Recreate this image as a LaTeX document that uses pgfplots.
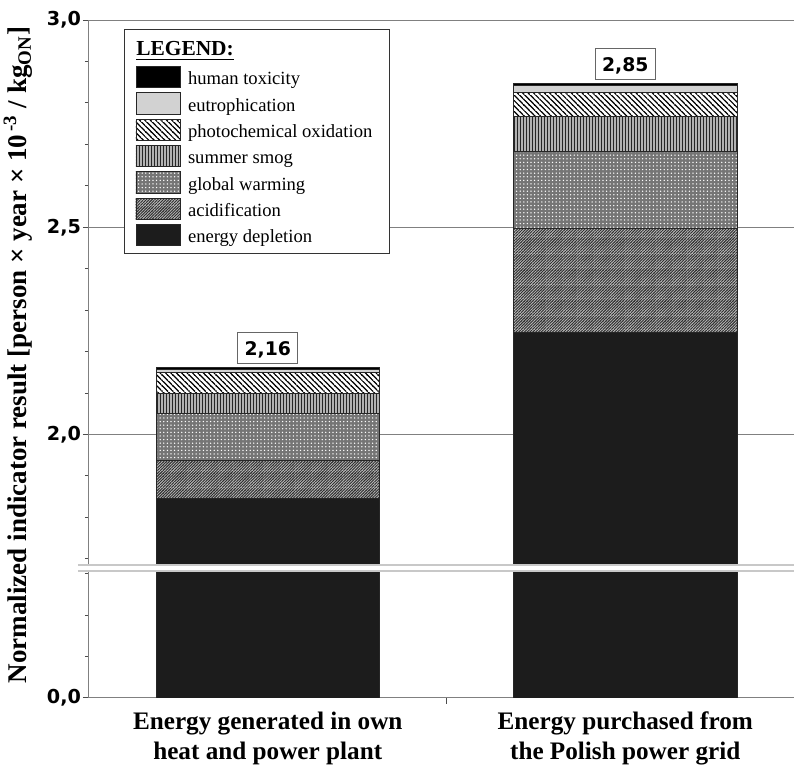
\documentclass[border=0pt]{standalone}
\usepackage{fontspec}
\setmainfont{Liberation Serif}
\newfontfamily\dejavu{DejaVu Sans}
\usepackage{pgfplots}
\pgfplotsset{compat=1.18}
\usetikzlibrary{patterns}

\definecolor{edep}{HTML}{1C1C1C}
\definecolor{axgray}{HTML}{808080}
\definecolor{brk}{HTML}{C8C8C8}
\definecolor{eutro}{HTML}{D2D2D2}

% inherently coloured textures (tiles overlap by 0.3pt to avoid seams)
\pgfdeclarepatterninherentlycolored{pacid}{\pgfqpoint{-0.3pt}{-0.3pt}}{\pgfqpoint{1.71pt}{1.71pt}}{\pgfqpoint{1.41pt}{1.41pt}}{%
  \pgfsetfillcolor{black!28}\pgfpathrectangle{\pgfqpoint{-0.3pt}{-0.3pt}}{\pgfqpoint{2.01pt}{2.01pt}}\pgfusepath{fill}%
  \pgfsetstrokecolor{black!82}\pgfsetlinewidth{0.45pt}%
  \pgfpathmoveto{\pgfqpoint{-0.3pt}{-0.3pt}}\pgfpathlineto{\pgfqpoint{1.71pt}{1.71pt}}%
  \pgfpathmoveto{\pgfqpoint{-0.3pt}{1.11pt}}\pgfpathlineto{\pgfqpoint{0.3pt}{1.71pt}}%
  \pgfpathmoveto{\pgfqpoint{1.11pt}{-0.3pt}}\pgfpathlineto{\pgfqpoint{1.71pt}{0.3pt}}%
  \pgfusepath{stroke}}
\pgfdeclarepatterninherentlycolored{pphoto}{\pgfqpoint{-0.3pt}{-0.3pt}}{\pgfqpoint{3.0pt}{3.0pt}}{\pgfqpoint{2.7pt}{2.7pt}}{%
  \pgfsetfillcolor{white}\pgfpathrectangle{\pgfqpoint{-0.3pt}{-0.3pt}}{\pgfqpoint{3.3pt}{3.3pt}}\pgfusepath{fill}%
  \pgfsetstrokecolor{black}\pgfsetlinewidth{0.6pt}%
  \pgfpathmoveto{\pgfqpoint{-0.3pt}{3.0pt}}\pgfpathlineto{\pgfqpoint{3.0pt}{-0.3pt}}%
  \pgfpathmoveto{\pgfqpoint{-0.3pt}{0.3pt}}\pgfpathlineto{\pgfqpoint{0.3pt}{-0.3pt}}%
  \pgfpathmoveto{\pgfqpoint{2.4pt}{3.0pt}}\pgfpathlineto{\pgfqpoint{3.0pt}{2.4pt}}%
  \pgfusepath{stroke}}
\pgfdeclarepatterninherentlycolored{psmog}{\pgfqpoint{-0.3pt}{-0.3pt}}{\pgfqpoint{1.8pt}{1.8pt}}{\pgfqpoint{1.5pt}{1.5pt}}{%
  \pgfsetfillcolor{black!30}\pgfpathrectangle{\pgfqpoint{-0.3pt}{-0.3pt}}{\pgfqpoint{2.1pt}{2.1pt}}\pgfusepath{fill}%
  \pgfsetfillcolor{black!85}\pgfpathrectangle{\pgfqpoint{0.5pt}{-0.3pt}}{\pgfqpoint{0.45pt}{2.1pt}}\pgfusepath{fill}}
\pgfdeclarepatterninherentlycolored{pgw}{\pgfqpoint{-0.3pt}{-0.3pt}}{\pgfqpoint{2.1pt}{2.1pt}}{\pgfqpoint{1.8pt}{1.8pt}}{%
  \pgfsetfillcolor{black!54}\pgfpathrectangle{\pgfqpoint{-0.3pt}{-0.3pt}}{\pgfqpoint{2.4pt}{2.4pt}}\pgfusepath{fill}%
  \pgfsetfillcolor{white}\pgfpathcircle{\pgfqpoint{0.9pt}{0.9pt}}{0.38pt}\pgfusepath{fill}}

\tikzset{barline/.style={draw=black!85, line width=0.4pt}}

\pgfplotsset{
  sw/.style={legend image code/.code={\draw[##1] (0pt,-5.325pt) rectangle (22pt,5.325pt);}},
  sED/.style={barline, fill=edep, sw},
  sAC/.style={barline, pattern=pacid, sw},
  sGW/.style={barline, pattern=pgw, sw},
  sSM/.style={barline, pattern=psmog, sw},
  sPO/.style={barline, pattern=pphoto, sw},
  sEU/.style={barline, fill=eutro, sw},
  sHT/.style={barline, fill=black, sw},
  common/.style={
    scale only axis, width=352.5pt,
    xmin=-0.5, xmax=1.472,
    ybar stacked, bar width=111.75pt,
    axis y line*=left,
    axis line style={draw=axgray, line width=0.5pt},
    tick align=outside, major tick length=3pt, minor tick length=2pt,
    tick style={draw=black!70, line width=0.5pt},
    yticklabel style={font=\dejavu\bfseries\fontsize{9.6}{11}\selectfont, xshift=2.5pt},
    /pgf/number format/.cd, use comma, fixed, fixed zerofill, precision=1, assume math mode=true, /pgfplots/.cd,
  },
}

\begin{document}
\begin{tikzpicture}
\begin{axis}[common, name=up, at={(0pt,0pt)}, anchor=south west,
  height=272.74pt, ymin=1.684, ymax=3.0,
  axis x line=none,
  ytick={2,2.5,3}, minor ytick={1.7,1.8,1.9,2.1,2.2,2.3,2.4,2.6,2.7,2.8,2.9},
  ymajorgrids, major grid style={draw=axgray, line width=0.5pt},
  legend style={at={(0.04965,0.9835)}, anchor=north west, draw=black!80, line width=0.5pt, fill=white,
    inner xsep=5.5pt, inner ysep=3.8pt, row sep=1.95pt, column sep=3.85pt,
    font=\fontsize{9.3}{11}\selectfont,
    nodes={inner sep=0pt, text height=9.4pt, text depth=1.8pt}},
  legend cell align=left, reverse legend,
]
\addplot[sED] coordinates {(0,1.8456) (1,2.2452)};
\addlegendentry{energy depletion}
\addplot[sAC] coordinates {(0,0.0924) (1,0.2511)};
\addlegendentry{acidification}
\addplot[sGW] coordinates {(0,0.1127) (1,0.1873)};
\addlegendentry{global warming}
\addplot[sSM] coordinates {(0,0.0482) (1,0.0830)};
\addlegendentry{summer smog}
\addplot[sPO] coordinates {(0,0.0514) (1,0.0579)};
\addlegendentry{photochemical oxidation\hspace*{3pt}}
\addplot[sEU] coordinates {(0,0.0077) (1,0.0183)};
\addlegendentry{eutrophication}
\addplot[sHT, nodes near coords, point meta=explicit symbolic,
  every node near coord/.style={draw=black!60, fill=white, line width=0.5pt, font=\dejavu\bfseries\fontsize{9.4}{11}\selectfont,
    anchor=south, yshift=2pt, inner xsep=3.4pt, inner ysep=4.3pt, text height=6.9pt, text depth=0pt}]
  coordinates {(0,0.0030) [2,16] (1,0.0041) [2,85]};
\addlegendentry{human toxicity}
\addlegendimage{legend image code/.code={\path[draw=none,fill=none] (0pt,-6.9pt) -- (0pt,5.6pt);}}
\addlegendentry{\hspace*{-25.85pt}\fontsize{10.7}{12}\selectfont\textbf{\underline{LEGEND:}}}
\end{axis}

\begin{axis}[common, name=low, at={(0pt,-2.85pt)}, anchor=north west,
  height=63.4pt, ymin=0, ymax=0.306,
  axis x line*=bottom,
  ytick={0}, minor ytick={0.1,0.2,0.3},
  xtick={0.5}, xticklabels={},
  extra x ticks={0,1},
  extra x tick labels={{Energy generated in own\\heat and power plant},{Energy purchased from\\the Polish power grid}},
  extra x tick style={major tick length=0pt},
  xticklabel style={align=center, font=\bfseries\fontsize{12.6}{15}\selectfont, yshift=-3.5pt},
]
\addplot[sED] coordinates {(0,1.8456) (1,2.2452)};
\end{axis}

\draw[brk, line width=1pt] ([xshift=-5.5pt]up.south west) -- (up.south east);
\draw[brk, line width=1pt] ([xshift=-5.5pt]low.north west) -- (low.north east);

\node[rotate=90, font=\bfseries\fontsize{13.5}{16}\selectfont] at (-35.5pt,105.25pt)
  {Normalized indicator result [person × year × 10\textsuperscript{\,-3} / kg\textsubscript{ON}]};

\pgfresetboundingbox
\useasboundingbox (-44.5pt,-101.75pt) rectangle (352.5pt,282.75pt);
\end{tikzpicture}
\end{document}
